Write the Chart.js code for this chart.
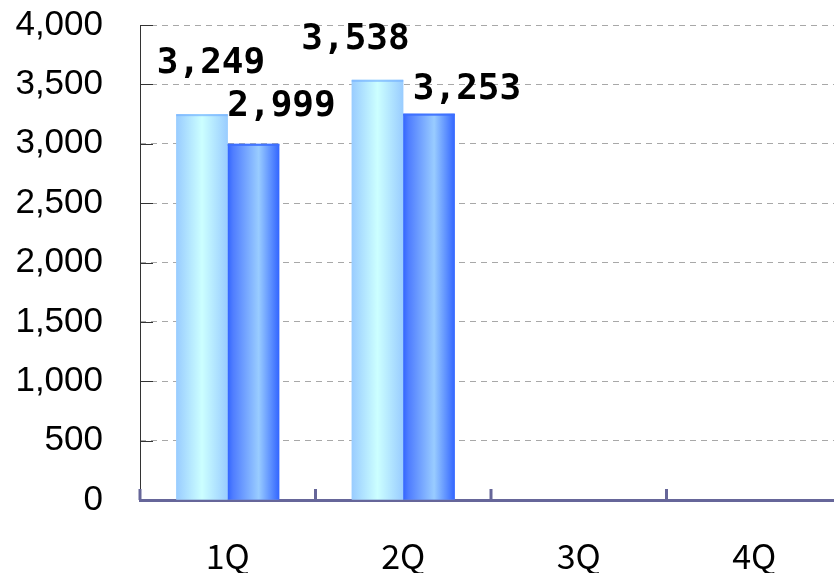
<!DOCTYPE html>
<html>
<head>
<meta charset="utf-8">
<script src="https://cdn.jsdelivr.net/npm/chart.js@4/dist/chart.umd.min.js"></script>
<style>
  html, body { margin: 0; padding: 0; background: #fff; overflow: hidden; }
  #wrap { width: 842px; height: 573px; }
</style>
</head>
<body>
<div id="wrap"><canvas id="bars"></canvas></div>
<script>
// quarterly figures
const quarters = ['1Q', '2Q', '3Q', '4Q'];
const seriesA = [3249, 3538, null, null];
const seriesB = [2999, 3253, null, null];
const yTicks = [0, 500, 1000, 1500, 2000, 2500, 3000, 3500, 4000];

// hand-placed label nudges (dx, dy from bar top centre), per series / quarter
const labelNudgeA = [[9, -51], [-22, -40]];
const labelNudgeB = [[28, -37], [38, -24]];

function barGradient(ctx, x0, x1, stops) {
  const g = ctx.createLinearGradient(x0, 0, x1, 0);
  stops.forEach(s => g.addColorStop(s[0], s[1]));
  return g;
}
const lightStops = [[0, '#99ccff'], [0.5, '#ccffff'], [1, '#99ccff']];
const darkStops = [[0, '#3366ff'], [0.1, '#4f7dff'], [0.6, '#99ccff'], [1, '#3366ff']];

// paint gradients over the bars, draw axis line, inner ticks and value labels
const decor = {
  id: 'decor',
  afterDatasetsDraw(chart) {
    const ctx = chart.ctx;
    const area = chart.chartArea;
    const y = chart.scales.y;
    ctx.save();
    chart.data.datasets.forEach((ds, di) => {
      const meta = chart.getDatasetMeta(di);
      const stops = di === 0 ? lightStops : darkStops;
      meta.data.forEach((el, i) => {
        if (ds.data[i] == null) return;
        const l = el.x - el.width / 2, r = el.x + el.width / 2;
        ctx.fillStyle = barGradient(ctx, l, r, stops);
        ctx.fillRect(l, el.y, r - l, el.base - el.y);
        // slim cap on top
        ctx.fillStyle = di === 0 ? 'rgba(120,180,255,0.7)' : 'rgba(60,110,255,0.9)';
        ctx.fillRect(l, el.y, r - l, 2);
      });
    });

    // solid value axis line with short inward ticks
    ctx.strokeStyle = '#333';
    ctx.lineWidth = 1;
    ctx.beginPath();
    ctx.moveTo(area.left + 0.5, area.top);
    ctx.lineTo(area.left + 0.5, area.bottom);
    ctx.stroke();
    yTicks.slice(1).forEach(v => {
      const py = Math.round(y.getPixelForValue(v)) + 0.5;
      ctx.beginPath();
      ctx.moveTo(area.left, py);
      ctx.lineTo(area.left + 13, py);
      ctx.stroke();
    });

    // category separators rising from the base line
    ctx.strokeStyle = '#666699';
    ctx.lineWidth = 3;
    const step = (area.right - area.left) / quarters.length;
    for (let k = 0; k <= quarters.length; k++) {
      const px = area.left + k * step;
      ctx.beginPath();
      ctx.moveTo(px, area.bottom);
      ctx.lineTo(px, area.bottom - 11);
      ctx.stroke();
    }

    // value labels
    ctx.fillStyle = '#000';
    ctx.font = 'bold 36px "DejaVu Sans Mono"';
    ctx.textAlign = 'center';
    ctx.textBaseline = 'middle';
    [[seriesA, labelNudgeA], [seriesB, labelNudgeB]].forEach((pair, di) => {
      const meta = chart.getDatasetMeta(di);
      pair[0].forEach((v, i) => {
        if (v == null) return;
        const el = meta.data[i];
        const n = pair[1][i] || [0, -30];
        ctx.fillText(v.toLocaleString('en-US'), el.x + n[0], el.y + n[1]);
      });
    });
    ctx.restore();
  }
};

new Chart(document.getElementById('bars'), {
  type: 'bar',
  data: {
    labels: quarters,
    datasets: [
      { data: seriesA, backgroundColor: '#aad8ff', borderWidth: 0 },
      { data: seriesB, backgroundColor: '#6f98ff', borderWidth: 0 }
    ]
  },
  options: {
    responsive: true,
    maintainAspectRatio: false,
    animation: false,
    events: [],
    layout: { padding: { top: 25, right: 0, left: 0, bottom: 0 } },
    plugins: { legend: { display: false }, tooltip: { enabled: false } },
    datasets: { bar: { categoryPercentage: 0.587, barPercentage: 1 } },
    scales: {
      x: {
        grid: { display: false, drawTicks: false },
        border: { display: true, color: '#666699', width: 3 },
        ticks: {
          color: '#000',
          padding: 36,
          font: { family: '"Noto Sans CJK JP"', size: 34 }
        },
        afterFit(s) { s.height = 73; }
      },
      y: {
        min: 0,
        max: 4000,
        afterBuildTicks(s) { s.ticks = yTicks.map(v => ({ value: v })); },
        // invisible tick marks keep the labels clear of the axis
        grid: {
          color: '#a8a8a8',
          lineWidth: 1,
          drawTicks: true,
          tickLength: 37,
          tickColor: 'rgba(0,0,0,0)'
        },
        border: { display: false, dash: [6, 5] },
        ticks: {
          color: '#000',
          padding: 0,
          font: { family: '"Liberation Sans"', size: 35 },
          callback: v => v.toLocaleString('en-US')
        },
        afterFit(s) { s.width = 140; }
      }
    }
  },
  plugins: [decor]
});
</script>
</body>
</html>
